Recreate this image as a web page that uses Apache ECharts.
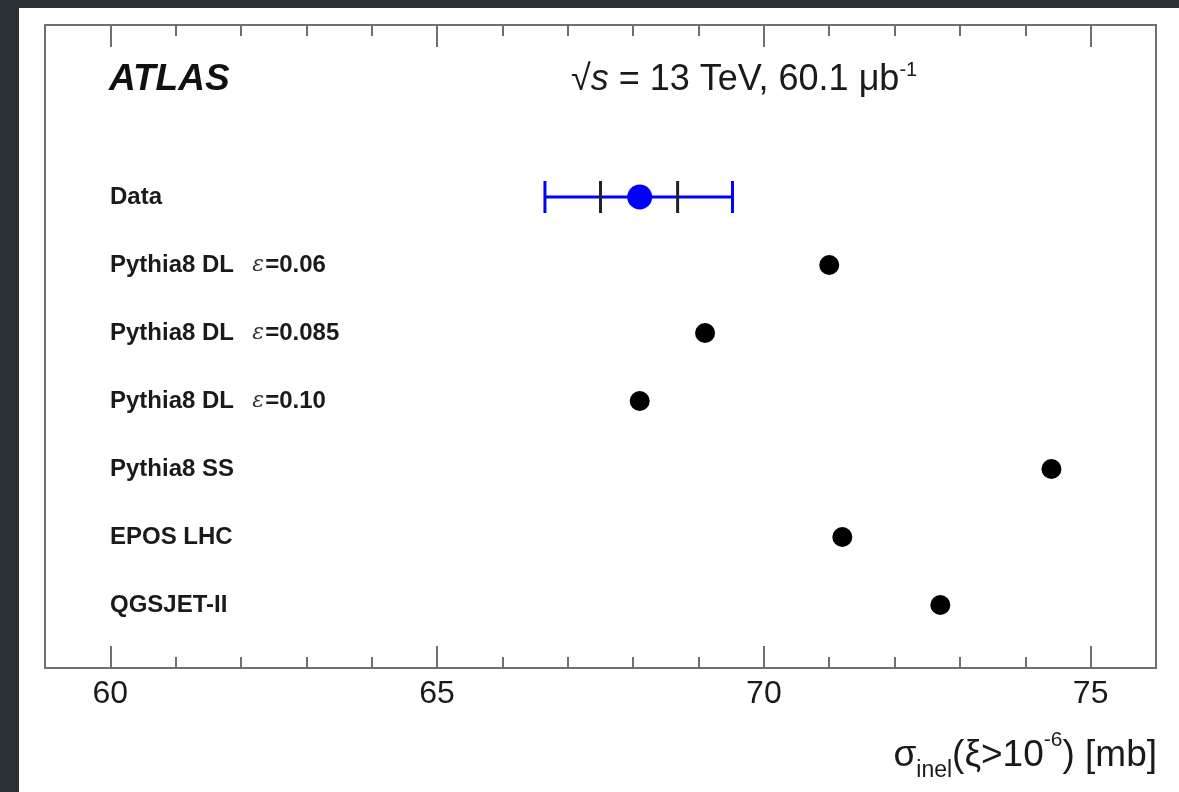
<!DOCTYPE html>
<html>
<head>
<meta charset="utf-8">
<script src="https://cdn.jsdelivr.net/npm/echarts@6/dist/echarts.min.js"></script>
<style>
html,body{margin:0;padding:0;background:#2c3135;}
#chart{width:1179px;height:792px;}
</style>
</head>
<body>
<div id="chart"></div>
<script>
// ---- data ----
const categories = ['Data', 'Pythia8 DL  ε=0.06', 'Pythia8 DL  ε=0.085', 'Pythia8 DL  ε=0.10', 'Pythia8 SS', 'EPOS LHC', 'QGSJET-II'];
const dataValue = 68.1;
const dataTotalLow = 66.65;
const dataTotalHigh = 69.52;
const dataExpLow = 67.5;
const dataExpHigh = 68.68;
const modelNames = categories.slice(1);
const modelValues = [71.0, 69.1, 68.1, 74.4, 71.2, 72.7];
const majorTicks = [60, 65, 70, 75];
const rowIndex = [0, 1, 2, 3, 4, 5, 6];

const FONT = '"Liberation Sans", Arial, Helvetica, sans-serif';

const chart = echarts.init(document.getElementById('chart'), null, {renderer: 'canvas'});

function rowLabel(v) {
  const t = categories[v];
  if (t === undefined) return '';
  if (t.indexOf('ε') >= 0) {
    const parts = t.split('ε');
    return '{b|' + parts[0] + '}{e|ε}{b|' + parts[1] + '}';
  }
  return '{b|' + t + '}';
}

const tickColor = '#6f6f6f';
function xAxisDef(pos, major, withLabel) {
  const ax = {
    type: 'value', position: pos, min: 59, max: 76, interval: 1,
    axisLine: {show: false, onZero: false},
    splitLine: {show: false},
    axisTick: {show: true, inside: true, length: major ? 22 : 11, lineStyle: {color: tickColor, width: 2}},
    axisLabel: {show: false}
  };
  if (major) ax.axisTick.customValues = majorTicks;
  if (withLabel) {
    ax.axisLabel = {show: true, customValues: majorTicks, fontSize: 32, fontFamily: FONT, color: '#1a1a1a', margin: 10};
  }
  return ax;
}

const option = {
  backgroundColor: '#2c3135',
  animation: false,
  graphic: [{
    type: 'rect', left: 19, top: 8, shape: {width: 1160, height: 784}, style: {fill: '#ffffff'}, z: -10
  }],
  title: [
    {text: 'ATLAS', left: 109, top: 61, padding: 0,
     textStyle: {fontFamily: FONT, fontSize: 37, fontWeight: 'bold', fontStyle: 'italic', color: '#111'}},
    {text: '√{s|s} = 13 TeV, 60.1 μb{sup|-1}', left: 571, top: 60, padding: 0,
     textStyle: {fontFamily: FONT, fontSize: 36, fontWeight: 'normal', color: '#1a1a1a',
       rich: {
         s: {fontFamily: FONT, fontSize: 36, fontWeight: 'normal', fontStyle: 'italic', color: '#1a1a1a'},
         sup: {fontFamily: FONT, fontSize: 20, fontWeight: 'normal', color: '#1a1a1a', verticalAlign: 'top', lineHeight: 40}
       }}},
    {text: 'σ{sub|inel}(ξ>10{sup|-6}) [mb]', right: 22, top: 730, padding: 0,
     textStyle: {fontFamily: FONT, fontSize: 37, fontWeight: 'normal', color: '#1a1a1a',
       rich: {
         sub: {fontFamily: FONT, fontSize: 23, fontWeight: 'normal', color: '#1a1a1a', verticalAlign: 'bottom', lineHeight: 52},
         sup: {fontFamily: FONT, fontSize: 21, fontWeight: 'normal', color: '#1a1a1a', verticalAlign: 'top', lineHeight: 52}
       }}}
  ],
  grid: {left: 45, top: 25, width: 1111, height: 643, show: true, borderColor: '#707070', borderWidth: 2, backgroundColor: 'transparent'},
  xAxis: [
    xAxisDef('bottom', true, true),
    xAxisDef('bottom', false, false),
    xAxisDef('top', true, false),
    xAxisDef('top', false, false)
  ],
  yAxis: {
    type: 'value', inverse: true, min: -2.529, max: 6.926,
    axisLine: {show: false, onZero: false}, axisTick: {show: false}, splitLine: {show: false},
    axisLabel: {
      show: true, inside: true, margin: 65, customValues: rowIndex,
      formatter: rowLabel,
      rich: {
        b: {fontFamily: FONT, fontSize: 24, fontWeight: 'bold', color: '#1a1a1a'},
        e: {fontFamily: '"DejaVu Serif", "Liberation Serif", serif', fontSize: 22, fontStyle: 'italic', color: '#333', padding: [0, 1, 0, 5]}
      }
    }
  },
  series: [
    {
      type: 'custom', xAxisIndex: 0, yAxisIndex: 0, z: 2,
      data: [[dataValue, 0, dataTotalLow, dataTotalHigh, dataExpLow, dataExpHigh]],
      renderItem: function (params, api) {
        const y = api.value(1);
        const pLo = api.coord([api.value(2), y]);
        const pHi = api.coord([api.value(3), y]);
        const eLo = api.coord([api.value(4), y]);
        const eHi = api.coord([api.value(5), y]);
        const h = 16;
        const blue = {stroke: '#0000ff', lineWidth: 3};
        const blk = {stroke: '#222222', lineWidth: 3};
        return {type: 'group', children: [
          {type: 'line', shape: {x1: pLo[0], y1: pLo[1], x2: pHi[0], y2: pHi[1]}, style: blue},
          {type: 'line', shape: {x1: pLo[0], y1: pLo[1] - h, x2: pLo[0], y2: pLo[1] + h}, style: blue},
          {type: 'line', shape: {x1: pHi[0], y1: pHi[1] - h, x2: pHi[0], y2: pHi[1] + h}, style: blue},
          {type: 'line', shape: {x1: eLo[0], y1: eLo[1] - h, x2: eLo[0], y2: eLo[1] + h}, style: blk},
          {type: 'line', shape: {x1: eHi[0], y1: eHi[1] - h, x2: eHi[0], y2: eHi[1] + h}, style: blk}
        ]};
      }
    },
    {
      type: 'scatter', name: 'Data', xAxisIndex: 0, z: 5,
      symbol: 'circle', symbolSize: 25,
      itemStyle: {color: '#0000ff', opacity: 1},
      data: [[dataValue, 0]]
    },
    {
      type: 'scatter', name: 'Models', xAxisIndex: 0, z: 5,
      symbol: 'circle', symbolSize: 20,
      itemStyle: {color: '#000000', opacity: 1},
      data: modelValues.map((v, i) => [v, i + 1])
    }
  ]
};
chart.setOption(option);
</script>
</body>
</html>
